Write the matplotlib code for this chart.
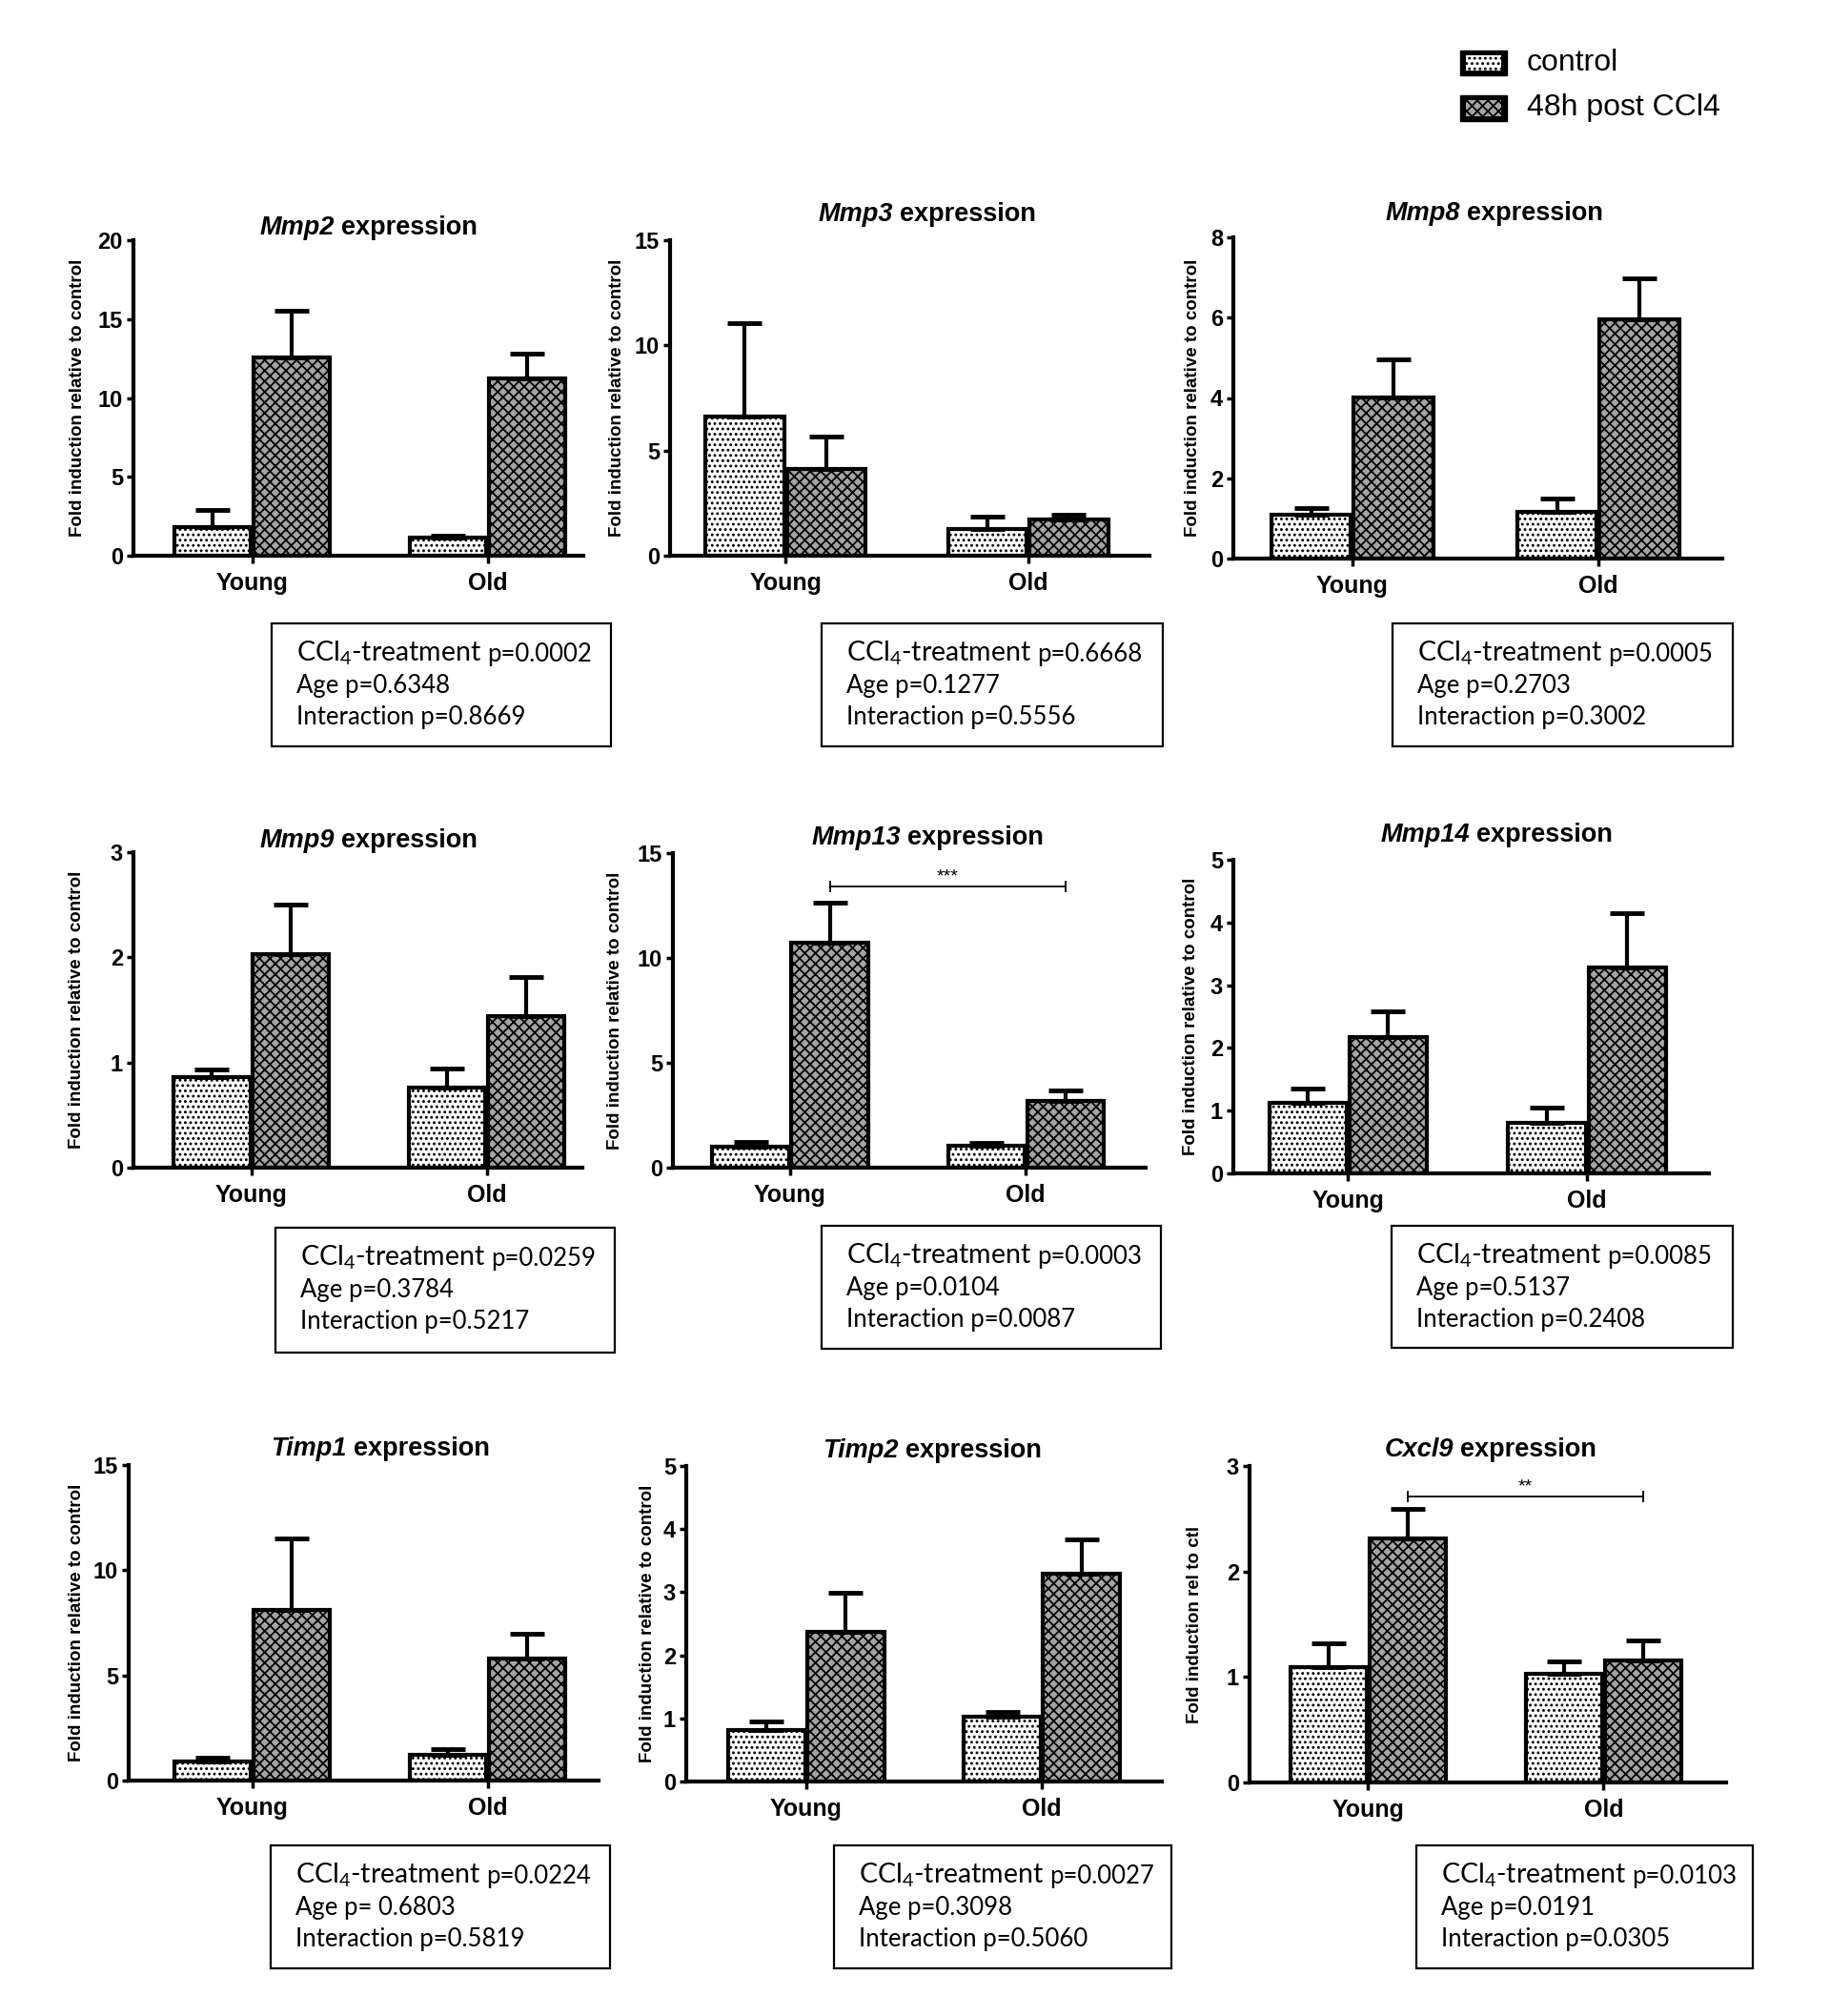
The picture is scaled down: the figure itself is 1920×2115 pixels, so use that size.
import numpy as np
import matplotlib
matplotlib.use("Agg")
import matplotlib.pyplot as plt
from matplotlib.patches import Rectangle

W, H = 1920, 2115

plt.rcParams['font.family'] = ['Liberation Sans', 'DejaVu Sans']
plt.rcParams['mathtext.fontset'] = 'custom'
plt.rcParams['mathtext.rm'] = 'Lato'
plt.rcParams['mathtext.it'] = 'Lato:italic'
plt.rcParams['mathtext.bf'] = 'Lato:bold'
plt.rcParams['hatch.linewidth'] = 1.3
plt.rcParams['hatch.color'] = 'black'

genes = ['Mmp2', 'Mmp3', 'Mmp8', 'Mmp9', 'Mmp13', 'Mmp14', 'Timp1', 'Timp2', 'Cxcl9']
ages = ['Young', 'Old']
series = ['control', '48h post CCl4']

# fold induction (Young, Old) and the upper SEM bar
ctrl_mean = [[1.79, 1.15], [6.60, 1.27], [1.09, 1.17], [0.86, 0.76], [1.01, 1.06],
             [1.12, 0.80], [0.91, 1.21], [0.82, 1.02], [1.09, 1.03]]
ctrl_sem = [[1.13, 0.12], [4.48, 0.58], [0.18, 0.32], [0.07, 0.18], [0.24, 0.14],
            [0.23, 0.25], [0.19, 0.30], [0.13, 0.08], [0.23, 0.12]]
ccl4_mean = [[12.59, 11.23], [4.13, 1.72], [4.01, 5.97], [2.03, 1.44], [10.73, 3.17],
             [2.17, 3.28], [8.11, 5.79], [2.37, 3.29], [2.31, 1.16]]
ccl4_sem = [[2.94, 1.60], [1.52, 0.21], [0.94, 1.01], [0.47, 0.37], [1.91, 0.53],
            [0.41, 0.87], [3.42, 1.20], [0.62, 0.55], [0.28, 0.19]]

y_max = [20, 15, 8, 3, 15, 5, 15, 5, 3]
y_step = [5, 5, 2, 1, 5, 1, 5, 1, 1]
y_labels = ['Fold induction relative to control'] * 8 + ['Fold induction rel to ctl']

p_ccl4 = ['0.0002', '0.6668', '0.0005', '0.0259', '0.0003', '0.0085', '0.0224', '0.0027', '0.0103']
p_age = ['0.6348', '0.1277', '0.2703', '0.3784', '0.0104', '0.5137', ' 0.6803', '0.3098', '0.0191']
p_inter = ['0.8669', '0.5556', '0.3002', '0.5217', '0.0087', '0.2408', '0.5819', '0.5060', '0.0305']

# young vs old CCl4 comparison
sig_stars = {'Mmp13': '***', 'Cxcl9': '**'}
sig_height = {'Mmp13': 13.4, 'Cxcl9': 2.71}

# layout, in pixels of the 1920x2115 picture
ax_px = [(140, 252, 612, 583), (703, 252, 1206, 583), (1294, 249, 1807, 586),
         (140, 894, 611, 1225), (706, 895, 1202, 1225), (1294, 902, 1793, 1231),
         (135, 1537, 628, 1868), (720, 1538, 1219, 1869), (1311, 1538, 1811, 1870)]
x_lims = [(-0.506, 1.405), (-0.476, 1.50), (-0.484, 1.504), (-0.502, 1.405), (-0.498, 1.51),
          (-0.48, 1.51), (-0.524, 1.47), (-0.51, 1.51), (-0.502, 1.52)]
title_px = [(387, 246), (973, 232), (1568, 231), (387, 889), (973, 886), (1570, 883),
            (399, 1527), (978, 1529), (1564, 1528)]
ylab_dx = [58, 55, 42, 59, 61, 45, 54, 40, 57]
box_px = [(285, 654, 641, 783), (862, 654, 1220, 783), (1461, 654, 1818, 783),
          (289, 1288, 645, 1419), (862, 1286, 1218, 1415), (1460, 1286, 1818, 1414),
          (284, 1936, 640, 2065), (875, 1936, 1229, 2065), (1486, 1936, 1839, 2065)]

BW = 0.324
OFF = 0.168
HATCH_CTRL = '...'
HATCH_CCL4 = 'xxx'
FACE_CTRL = 'white'
FACE_CCL4 = '#a4a4a4'

fig = plt.figure(figsize=(W / 100, H / 100), dpi=100)
renderer = fig.canvas.get_renderer()


def fx(x):
    return x / W


def fy(y):
    return 1 - y / H


def text_run(x, y, pieces, center=False, gap=0):
    """Put several text pieces side by side on one baseline (x, y in px)."""
    texts, widths = [], []
    for s, kw in pieces:
        t = fig.text(0, 0, s, ha='left', va='baseline', **kw)
        texts.append(t)
        widths.append(t.get_window_extent(renderer).width)
    total = sum(widths) + gap * (len(pieces) - 1)
    start = x - total / 2 if center else x
    for t, w in zip(texts, widths):
        t.set_position((fx(start), fy(y)))
        start += w + gap


for i, g in enumerate(genes):
    x0, y0, x1, y1 = ax_px[i]
    ax = fig.add_axes([fx(x0), fy(y1), (x1 - x0) / W, (y1 - y0) / H])
    pos = np.arange(len(ages))

    ax.bar(pos - OFF, ctrl_mean[i], BW, facecolor=FACE_CTRL, edgecolor='black',
           linewidth=3, hatch=HATCH_CTRL, zorder=2)
    ax.bar(pos + OFF, ccl4_mean[i], BW, facecolor=FACE_CCL4, edgecolor='black',
           linewidth=3, hatch=HATCH_CCL4, zorder=2)
    ax.errorbar(pos - OFF, ctrl_mean[i], yerr=[np.zeros(2), ctrl_sem[i]], fmt='none',
                ecolor='black', elinewidth=3, capsize=13, capthick=3.5, zorder=3)
    ax.errorbar(pos + OFF, ccl4_mean[i], yerr=[np.zeros(2), ccl4_sem[i]], fmt='none',
                ecolor='black', elinewidth=3, capsize=13, capthick=3.5, zorder=3)

    if g in sig_stars:
        h = sig_height[g]
        ax.plot([pos[0] + OFF, pos[1] + OFF], [h, h], color='black', lw=1.3,
                marker='|', markersize=9, markeredgewidth=1.3, zorder=3)
        ax.annotate(sig_stars[g], ((pos[0] + pos[1]) / 2 + OFF, h), xytext=(0, 1),
                    textcoords='offset points', ha='center', va='bottom', fontsize=14)

    ax.set_xlim(*x_lims[i])
    ax.set_ylim(0, y_max[i])
    ax.set_yticks(np.arange(0, y_max[i] + 0.01, y_step[i]))
    ax.set_xticks(pos)
    ax.set_xticklabels(ages)
    for side in ['top', 'right']:
        ax.spines[side].set_visible(False)
    for side in ['left', 'bottom']:
        ax.spines[side].set_linewidth(3)
    ax.tick_params(axis='x', length=6, width=2.5, pad=6, labelsize=18)
    ax.tick_params(axis='y', length=5, width=2.5, pad=3, labelsize=17)
    for lab in ax.get_xticklabels() + ax.get_yticklabels():
        lab.set_fontweight('bold')
    ax.set_ylabel(y_labels[i], fontsize=13.5, fontweight='bold', va='center')
    ax.yaxis.set_label_coords(-ylab_dx[i] / (x1 - x0), 0.5)

    # title: italic gene name + "expression"
    tx, ty = title_px[i]
    text_run(tx, ty, [(g, dict(fontsize=19.5, fontweight='bold', fontstyle='italic')),
                      ('expression', dict(fontsize=19.5, fontweight='bold'))],
             center=True, gap=7)

    # two-way ANOVA box
    bx0, by0, bx1, by1 = box_px[i]
    fig.add_artist(Rectangle((fx(bx0), fy(by1)), (bx1 - bx0) / W, (by1 - by0) / H,
                             transform=fig.transFigure, facecolor='none',
                             edgecolor='black', linewidth=1.6))
    big = dict(fontsize=20.5, family='Lato')
    small = dict(fontsize=18.5, family='Lato')
    text_run(bx0 + 26, by0 + 40, [('CCl$_4$-treatment', big), ('p=' + p_ccl4[i], small)], gap=6)
    text_run(bx0 + 26, by0 + 73, [('Age p=' + p_age[i], small)])
    text_run(bx0 + 26, by0 + 106, [('Interaction p=' + p_inter[i], small)])

# legend in the top right corner
leg_rows = [(53, 79), (100, 127)]
for (ly0, ly1), name, hatch, face in zip(leg_rows, series, [HATCH_CTRL, HATCH_CCL4],
                                         [FACE_CTRL, FACE_CCL4]):
    fig.add_artist(Rectangle((fx(1532), fy(ly1)), 49 / W, (ly1 - ly0) / H,
                             transform=fig.transFigure, facecolor='black', edgecolor='black'))
    fig.add_artist(Rectangle((fx(1538), fy(ly1 - 5)), 37 / W, (ly1 - ly0 - 10) / H,
                             transform=fig.transFigure, facecolor=face, edgecolor='black',
                             linewidth=0, hatch=hatch))
    fig.text(fx(1602), fy((ly0 + ly1) / 2), name, fontsize=23, va='center', ha='left')

fig.savefig('out.png', dpi=100)
